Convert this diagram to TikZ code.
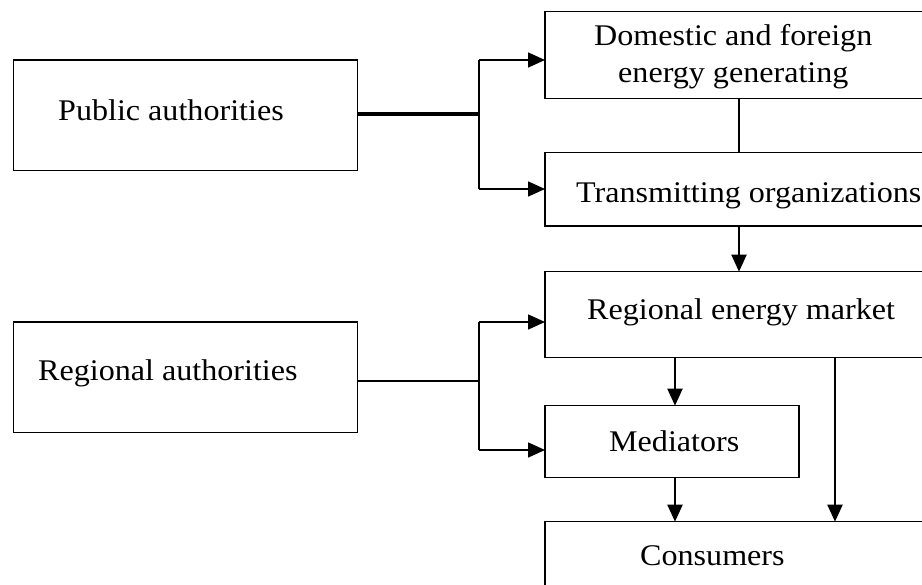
\documentclass[tikz,border=0pt]{standalone}
\usepackage{fontspec}
\setmainfont{Liberation Serif}[FakeStretch=1.07]
\usetikzlibrary{arrows.meta}
\begin{document}
\begin{tikzpicture}[x=1pt,y=-1pt,
  box/.style={draw,line width=1.4pt,rectangle,inner sep=0pt,outer sep=0pt},
  lbl/.style={anchor=base west,inner sep=0pt,font=\fontsize{30}{36}\selectfont},
  conn/.style={line width=1.6pt},
  arr/.style={line width=1.6pt,-{Triangle[length=17pt,width=15pt]}},
  varr/.style={line width=2pt,-{Triangle[length=17pt,width=15pt]}},
  thickconn/.style={line width=3.6pt}]
\useasboundingbox (0,0) rectangle (922,585);
\clip (0,0) rectangle (922,585);
% boxes
\node[box,minimum width=344pt,minimum height=110.7pt] (pa) at (185.5,115.35) {};
\node[box,minimum width=344pt,minimum height=110.7pt] (ra) at (185.5,377.35) {};
\node[box,minimum width=400pt,minimum height=87pt] (dom) at (745,55.2) {};
\node[box,minimum width=400pt,minimum height=73.3pt] (tr) at (745,189.35) {};
\node[box,minimum width=400pt,minimum height=86pt] (rem) at (745,314.7) {};
\node[box,minimum width=254pt,minimum height=72pt] (med) at (672,441.7) {};
\node[box,minimum width=400pt,minimum height=100pt] (con) at (745,571.7) {};
% texts
\node[lbl] (tpa) at (58,121) {Public authorities};
\node[lbl] (tra) at (38,381) {Regional authorities};
\node[lbl] (tdom1) at (594,46) {Domestic and foreign};
\node[lbl] (tdom2) at (618,83) {energy generating};
\node[lbl] (ttr) at (576,203) {Transmitting organizations};
\node[lbl] (trem) at (587,320) {Regional energy market};
\node[lbl] (tmed) at (609,451.7) {Mediators};
\node[lbl] (tcon) at (640,565) {Consumers};
% junction coordinates
\coordinate (j1) at (479,114);
\coordinate (j1a) at (479,60);
\coordinate (j1b) at (479,189);
\coordinate (j2) at (479,381);
\coordinate (j2a) at (479,322);
\coordinate (j2b) at (479,450);
% connectors: public authorities
\draw[thickconn] (pa.east |- j1) -- (j1);
\draw[conn] (j1a) -- (j1b);
\draw[arr] (j1a) -- (dom.west |- j1a);
\draw[arr] (j1b) -- (tr.west |- j1b);
% connectors: regional authorities
\draw[conn] (ra.east |- j2) -- (j2);
\draw[conn] (j2a) -- (j2b);
\draw[arr] (j2a) -- (rem.west |- j2a);
\draw[arr] (j2b) -- (med.west |- j2b);
% vertical links
\coordinate (c1) at (739,0);
\coordinate (c2) at (675,0);
\coordinate (c3) at (835,0);
\draw[line width=1.4pt] (dom.south -| c1) -- (tr.north -| c1);
\draw[varr] (tr.south -| c1) -- (rem.north -| c1);
\draw[varr] (rem.south -| c2) -- (med.north -| c2);
\draw[varr] (med.south -| c2) -- (con.north -| c2);
\draw[varr] (rem.south -| c3) -- (con.north -| c3);
\end{tikzpicture}
\end{document}
